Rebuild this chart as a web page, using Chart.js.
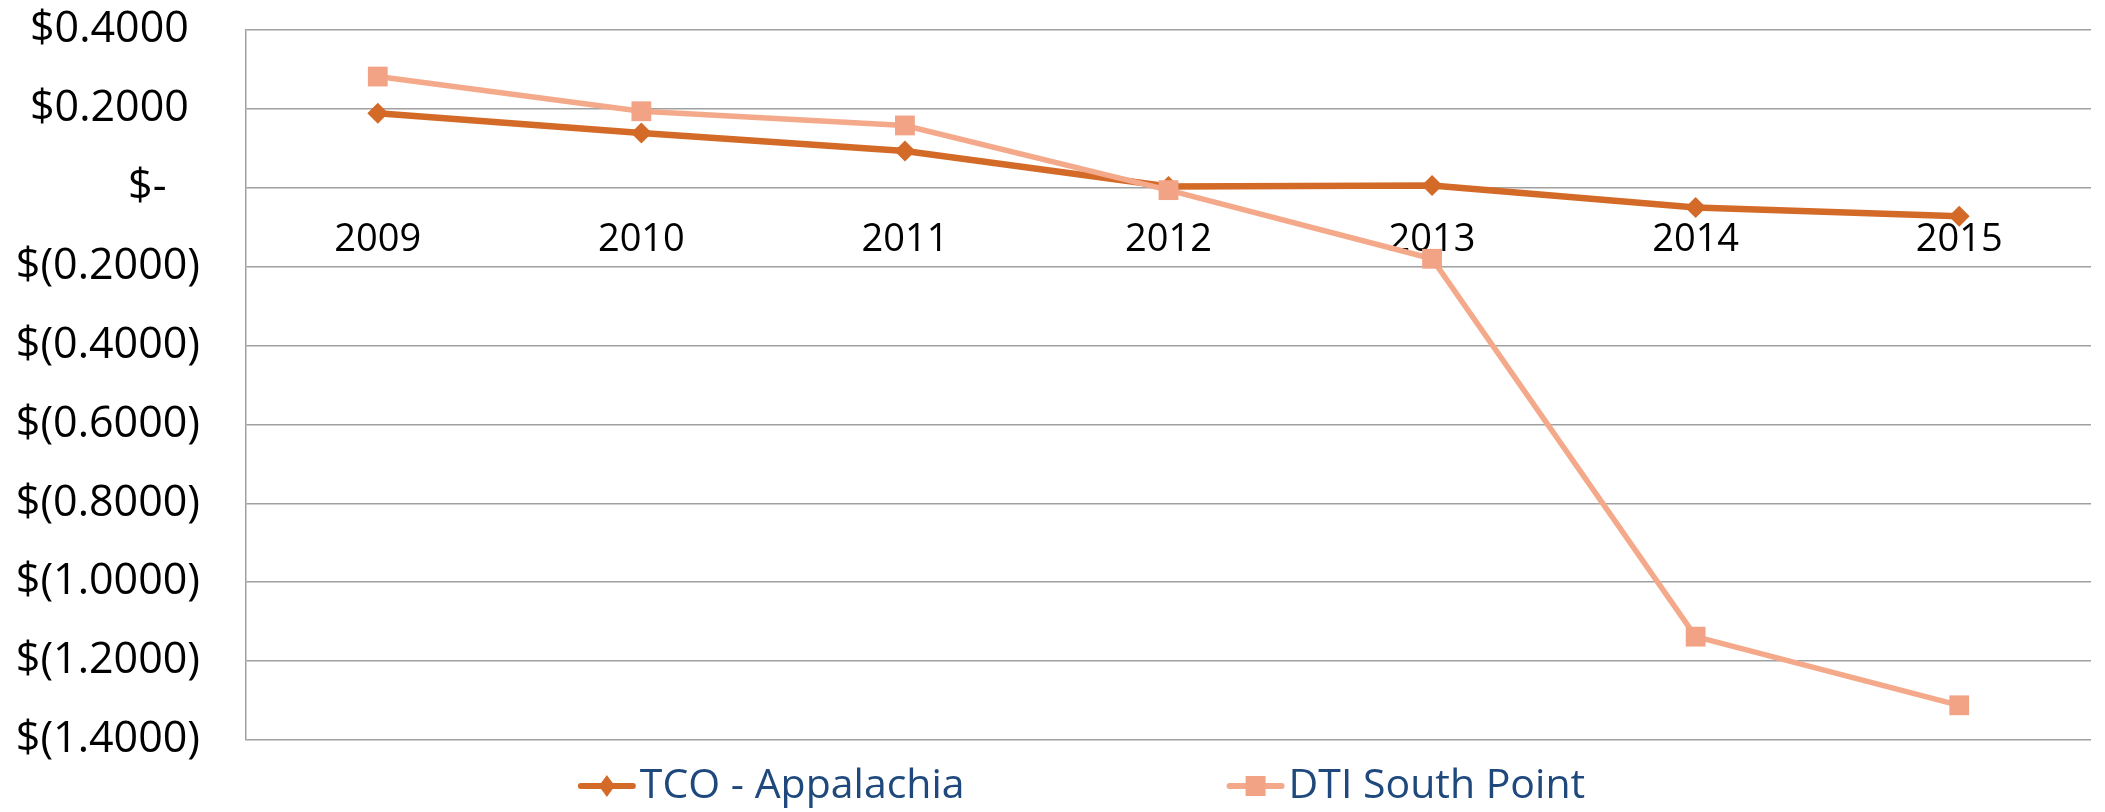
<!DOCTYPE html>
<html>
<head>
    <meta charset="utf-8">
    <title>TCO - Appalachia vs DTI South Point</title>
    <script src="https://cdn.jsdelivr.net/npm/chart.js"></script>
    <style>
        html, body { margin: 0; padding: 0; background: #ffffff; }
        #chartBox { width: 2105px; height: 812px; }
    </style>
</head>
<body>

    <!--chart-->
    <div id="chartBox">
        <canvas id="basisChart" width="2105" height="812"></canvas>
    </div>

    <script>
        // data
        var years = ['2009', '2010', '2011', '2012', '2013', '2014', '2015'];
        var tcoAppalachia = [0.189, 0.139, 0.093, 0.003, 0.006, -0.050, -0.072];
        var dtiSouthPoint = [0.282, 0.194, 0.158, -0.006, -0.180, -1.138, -1.312];
        var seriesNames = ['TCO - Appalachia', 'DTI South Point'];
        var yTicks = [0.4, 0.2, 0, -0.2, -0.4, -0.6, -0.8, -1.0, -1.2, -1.4];

        var tcoColor = '#D46A27';
        var dtiColor = '#F4A98A';
        var gridColor = '#A0A0A0';
        var fontFamily = '"Open Sans", Lato, "Liberation Sans", sans-serif';

        // excel accounting style: $0.2000 / $(0.2000) / $-
        function money(v) {
            if (Math.abs(v) < 1e-9) return '$-   ';
            if (v < 0) return '$(' + (-v).toFixed(4) + ')';
            return '$' + v.toFixed(4) + ' ';
        }

        // legend drawn under the plot, line + marker like excel
        var bottomLegend = {
            id: 'bottomLegend',
            afterDraw: function(chart) {
                var ctx = chart.ctx;
                var sets = chart.data.datasets;
                ctx.save();
                ctx.font = '41px ' + fontFamily;
                var keyW = 58, keyGap = 4, itemGap = 262;
                var widths = sets.map(function(ds) {
                    return keyW + keyGap + ctx.measureText(ds.label).width;
                });
                var total = widths.reduce(function(a, b) { return a + b; }, 0) + itemGap * (sets.length - 1);
                var x = chart.width / 2 + 29 - total / 2;
                var y = chart.height - 26;
                sets.forEach(function(ds, i) {
                    ctx.strokeStyle = ds.borderColor;
                    ctx.lineWidth = 6;
                    ctx.lineCap = 'round';
                    ctx.beginPath();
                    ctx.moveTo(x + 3, y);
                    ctx.lineTo(x + keyW - 3, y);
                    ctx.stroke();

                    var cx = x + keyW / 2;
                    ctx.fillStyle = ds.pointBackgroundColor;
                    ctx.beginPath();
                    if (ds.pointStyle === 'rectRot') {
                        ctx.moveTo(cx, y - 11);
                        ctx.lineTo(cx + 8, y);
                        ctx.lineTo(cx, y + 11);
                        ctx.lineTo(cx - 8, y);
                        ctx.closePath();
                    } else {
                        ctx.rect(cx - 10, y - 10, 20, 20);
                    }
                    ctx.fill();

                    ctx.fillStyle = '#1F497D';
                    ctx.textAlign = 'left';
                    ctx.textBaseline = 'middle';
                    ctx.fillText(ds.label, x + keyW + keyGap, y);
                    x += widths[i] + itemGap;
                });
                ctx.restore();
            }
        };

        var ctx = document.getElementById('basisChart');
        new Chart(ctx, {
            type: 'line',
            data: {
                labels: years,
                datasets: [{
                    label: seriesNames[0],
                    data: tcoAppalachia,
                    borderColor: tcoColor,
                    backgroundColor: tcoColor,
                    borderWidth: 6.5,
                    pointStyle: 'rectRot',
                    pointRadius: 10.5,
                    pointBackgroundColor: tcoColor,
                    pointBorderWidth: 0,
                    tension: 0,
                    order: 2
                }, {
                    label: seriesNames[1],
                    data: dtiSouthPoint,
                    borderColor: dtiColor,
                    backgroundColor: dtiColor,
                    borderWidth: 5.5,
                    pointStyle: 'rect',
                    pointRadius: 14,
                    pointBackgroundColor: '#F2A385',
                    pointBorderWidth: 0,
                    tension: 0,
                    order: 1
                }]
            },
            options: {
                responsive: false,
                animation: false,
                events: [],
                layout: {
                    padding: { top: 30, left: 15, right: 0, bottom: 72 }
                },
                plugins: {
                    legend: { display: false },
                    tooltip: { enabled: false }
                },
                scales: {
                    x: {
                        type: 'category',
                        offset: true,
                        position: { y: 0 },
                        afterFit: function(scale) { scale.height = 0; },
                        grid: { display: false, drawTicks: false },
                        border: { display: false },
                        ticks: {
                            font: { family: fontFamily, size: 38 },
                            color: '#000000',
                            padding: 30,
                            maxRotation: 0,
                            autoSkip: false
                        }
                    },
                    y: {
                        min: -1.4,
                        max: 0.4,
                        afterBuildTicks: function(axis) {
                            axis.ticks = yTicks.map(function(v) { return { value: v }; });
                        },
                        // fixed axis width; tick padding should not push the plot down
                        afterFit: function(scale) {
                            scale.width = 231;
                            scale.paddingTop = 22;
                            scale.paddingBottom = 22;
                        },
                        grid: { color: gridColor, lineWidth: 1.5, drawTicks: false },
                        border: { display: true, color: gridColor, width: 1.5 },
                        ticks: {
                            font: { family: fontFamily, size: 43 },
                            color: '#000000',
                            padding: 46,
                            callback: function(v) { return money(v); }
                        }
                    }
                }
            },
            plugins: [bottomLegend]
        });
    </script>

</body>
</html>
